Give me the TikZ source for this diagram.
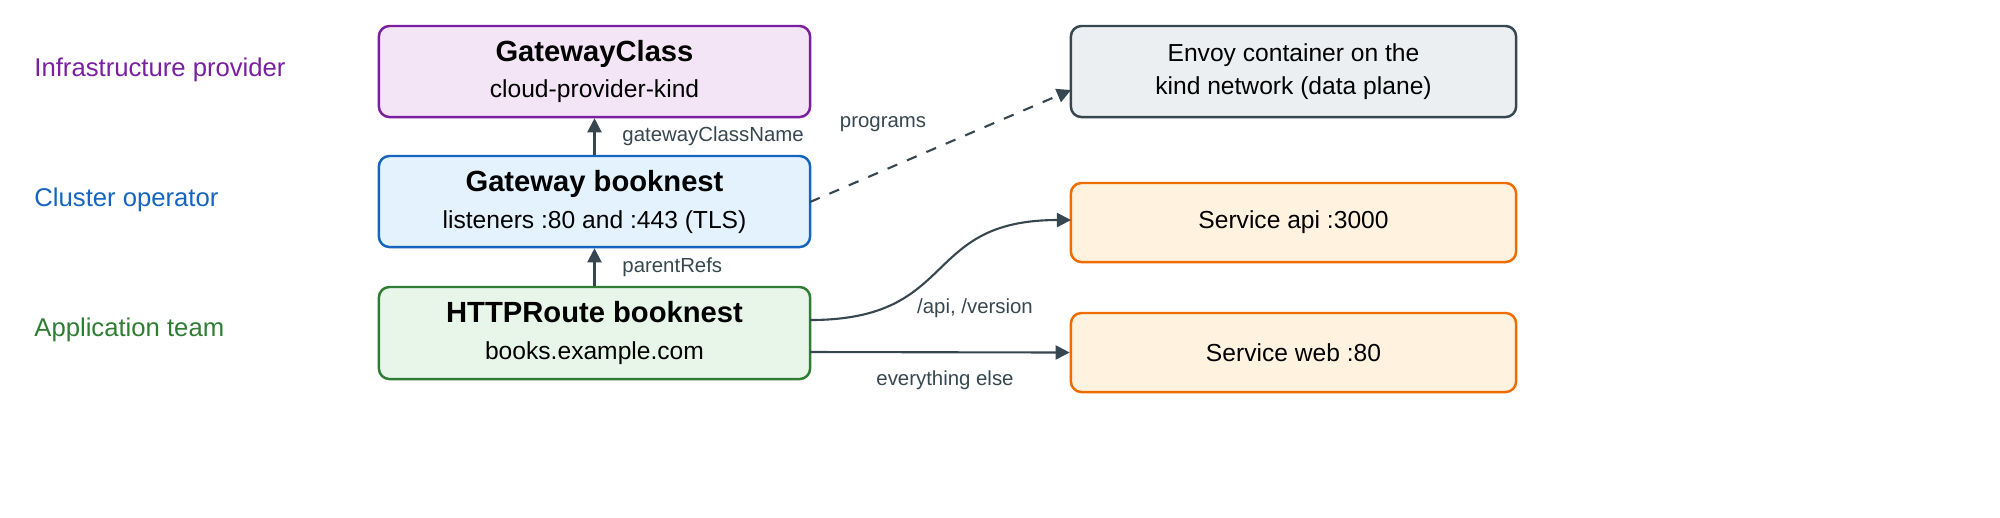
\documentclass[tikz,border=0pt]{standalone}
\usepackage{fontspec}
\setmainfont{Liberation Sans}
\usetikzlibrary{arrows.meta}
\definecolor{pB}{HTML}{7B1FA2}\definecolor{pF}{HTML}{F3E5F5}
\definecolor{bB}{HTML}{1565C0}\definecolor{bF}{HTML}{E3F2FD}
\definecolor{gB}{HTML}{2E7D32}\definecolor{gF}{HTML}{E8F5E9}
\definecolor{kB}{HTML}{37474F}\definecolor{kF}{HTML}{ECEFF1}
\definecolor{oB}{HTML}{EF6C00}\definecolor{oF}{HTML}{FFF3E0}
\begin{document}
\begin{tikzpicture}[x=0.01cm,y=-0.01cm,
 box/.style={draw,rounded corners=3pt,line width=0.7pt,align=center,font=\fontsize{7}{9.5}\selectfont},
 lab/.style={anchor=west,font=\fontsize{7.3}{9}\selectfont},
 el/.style={font=\fontsize{5.8}{7}\selectfont,text=kB},
 arr/.style={-{Triangle[length=4pt,width=4pt]},draw=kB,line width=0.6pt}]
\node[box,draw=pB,fill=pF,minimum width=4.31cm,minimum height=0.91cm] (gc) at (594.5,71.5) {\textbf{\fontsize{8.3}{10}\selectfont GatewayClass}\\[1pt]cloud-provider-kind};
\node[box,draw=bB,fill=bF,minimum width=4.31cm,minimum height=0.91cm] (gw) at (594.5,201.5) {\textbf{\fontsize{8.3}{10}\selectfont Gateway booknest}\\[1pt]listeners :80 and :443 (TLS)};
\node[box,draw=gB,fill=gF,minimum width=4.31cm,minimum height=0.92cm] (hr) at (594.5,333) {\textbf{\fontsize{8.3}{10}\selectfont HTTPRoute booknest}\\[1pt]books.example.com};
\node[box,draw=kB,fill=kF,minimum width=4.45cm,minimum height=0.91cm] (env) at (1293.5,71.5) {Envoy container on the\\kind network (data plane)};
\node[box,draw=oB,fill=oF,minimum width=4.45cm,minimum height=0.79cm] (api) at (1293.5,222.5) {Service api :3000};
\node[box,draw=oB,fill=oF,minimum width=4.45cm,minimum height=0.79cm] (web) at (1293.5,352.5) {Service web :80};
\node[lab,text=pB] (l1) at (22,70) {Infrastructure provider};
\node[lab,text=bB] (l2) at (22,200) {Cluster operator};
\node[lab,text=gB] (l3) at (22,330) {Application team};
\draw[arr] (gw.north) -- (gc.south);
\node[el,anchor=west] (t1) at (610,136) {gatewayClassName};
\draw[arr] (hr.north) -- (gw.south);
\node[el,anchor=west] (t2) at (610,267) {parentRefs};
\coordinate (p1) at (810,202);
\coordinate (p2) at (1071,90);
\draw[arr,dashed] (p1) -- (p2);
\node[el] (t3) at (883,124) {programs};
\coordinate (a1) at (810,320);
\coordinate (a2) at (1071,220);
\draw[arr] (a1) .. controls (960,320) and (920,220) .. (a2);
\node[el] (t4) at (975,308) {/api, /version};
\coordinate (w1) at (810,352);
\draw[arr] (w1) -- (web.west);
\node[el] (t5) at (945,380) {everything else};
\pgfresetboundingbox
\path[use as bounding box] (0,0) rectangle (2000,517);
\end{tikzpicture}
\end{document}
